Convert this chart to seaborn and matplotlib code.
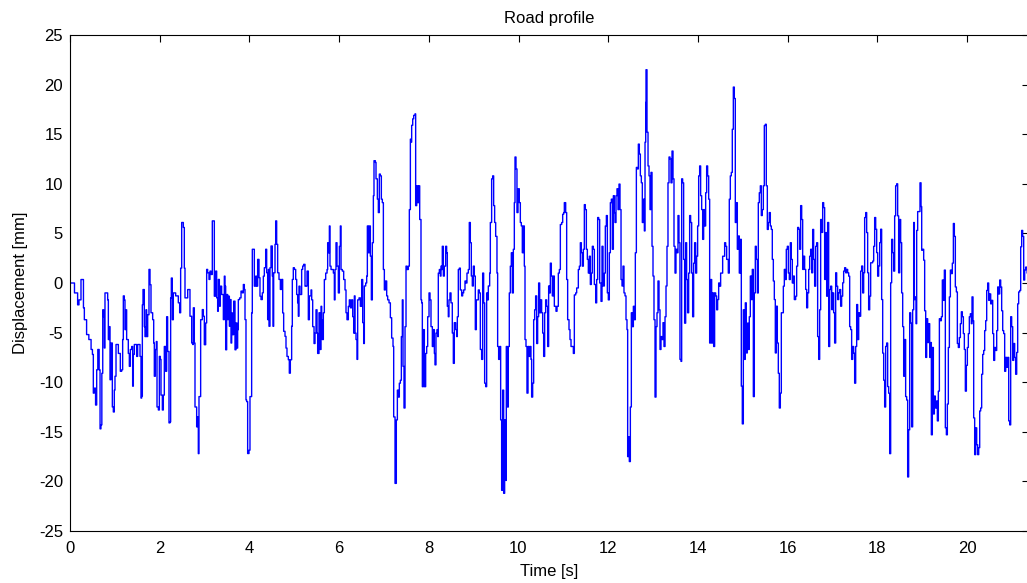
# plot.py
# Road profile - displacement vs time (MATLAB-style line plot)

import pandas as pd
import numpy as np
import matplotlib
matplotlib.use("Agg")
import matplotlib.pyplot as plt
import seaborn as sns

# (time [s], displacement [mm]), one list per stretch
road_0_to_2_5 = [
    (0.00, 0.0), (0.07, 0.0), (0.10, -1.0), (0.17, -2.2), (0.20, -1.7), (0.245, 0.35), (0.275, 0.35),
    (0.30, -2.5), (0.32, -3.7), (0.37, -5.2), (0.42, -5.7), (0.47, -6.7), (0.50, -7.2), (0.52, -11.1),
    (0.54, -10.6), (0.57, -12.3), (0.595, -8.75), (0.62, -6.7), (0.65, -8.75), (0.67, -14.7), (0.69, -14.3),
    (0.71, -9.1), (0.73, -2.7), (0.75, -3.4), (0.765, -6.55), (0.78, -1.0), (0.84, -1.7), (0.855, -5.7),
    (0.877, -4.4), (0.892, -9.75), (0.914, -6.05), (0.944, -12.5), (0.966, -13.0), (0.988, -10.8),
    (1.003, -9.4), (1.026, -6.2), (1.078, -7.1), (1.122, -8.9), (1.152, -8.75), (1.174, -5.7), (1.189, -1.3),
    (1.211, -1.7), (1.226, -4.7), (1.241, -2.7), (1.263, -5.7), (1.30, -7.1), (1.323, -8.4), (1.345, -6.7),
    (1.375, -6.4), (1.397, -10.4), (1.412, -7.2), (1.434, -6.2), (1.486, -7.4), (1.508, -6.2), (1.561, -7.4),
    (1.583, -11.6), (1.598, -11.4), (1.613, -2.2), (1.628, -0.66), (1.657, -4.4), (1.672, -5.4), (1.694, -2.7),
    (1.709, -5.4), (1.732, -3.2), (1.761, 1.37), (1.784, -0.17), (1.806, -3.0), (1.843, -3.7), (1.866, -6.05),
    (1.88, -9.4), (1.903, -6.7), (1.925, -5.9), (1.94, -12.5), (1.97, -12.8), (1.992, -7.4), (2.014, -7.7),
    (2.029, -11.3), (2.059, -12.8), (2.081, -11.3), (2.103, -6.4), (2.133, -8.9), (2.155, -3.4), (2.177, -6.9),
    (2.207, -14.1), (2.229, -14.0), (2.244, -1.5), (2.259, 0.5), (2.281, -3.7), (2.304, -1.0), (2.356, -1.3),
    (2.415, -2.0), (2.445, -3.0), (2.467, 1.5), (2.49, 6.1), (2.527, 5.6), (2.549, 1.5), (2.564, -1.5),
]

road_2_5_to_5_2 = [
    (2.624, -0.66), (2.653, -0.66), (2.675, -3.35), (2.713, -6.05), (2.735, -6.2), (2.75, -2.5), (2.772, -6.05),
    (2.787, -12.5), (2.824, -14.5), (2.84, -13.5), (2.861, -17.2), (2.876, -11.45), (2.913, -3.7), (2.95, -2.68),
    (2.973, -3.35), (2.995, -6.22), (3.025, -4.03), (3.047, 1.37), (3.069, 1.03), (3.099, 0.36), (3.121, 1.2),
    (3.144, 0.86), (3.173, 6.26), (3.196, 6.26), (3.218, -1.33), (3.248, 1.2), (3.27, -1.5), (3.292, -2.85),
    (3.307, 0.36), (3.33, -2.34), (3.352, -0.32), (3.381, -1.16), (3.419, -3.69), (3.441, 0.69), (3.456, -0.32),
    (3.471, -6.73), (3.493, -1.16), (3.515, -3.69), (3.53, -1.33), (3.553, -4.36), (3.575, -1.67), (3.59, -6.05),
    (3.605, -3.02), (3.627, -5.21), (3.649, -1.83), (3.679, -6.73), (3.701, -4.03), (3.723, -6.56), (3.738, -4.7),
    (3.753, -1.67), (3.783, -1.5), (3.813, -0.82), (3.842, -0.99), (3.865, -0.15), (3.887, -0.65), (3.902, -3.69),
    (3.924, -11.79), (3.939, -11.96), (3.961, -17.19), (3.991, -16.85), (4.013, -11.45), (4.05, -3.02),
    (4.065, 3.4), (4.088, 3.4), (4.11, -0.32), (4.14, 0.69), (4.162, -0.32), (4.184, 2.38), (4.214, 0.53),
    (4.236, -1.33), (4.259, -1.67), (4.288, -0.99), (4.311, 0.69), (4.333, 1.54), (4.363, 3.4), (4.385, 1.03),
    (4.407, -3.69), (4.422, 1.37), (4.437, -4.36), (4.459, 1.54), (4.482, 3.73), (4.511, 0.69), (4.526, -4.36),
    (4.541, 1.03), (4.571, 3.9), (4.586, 6.26), (4.608, 3.9), (4.63, 1.03), (4.66, 0.36), (4.69, -0.65),
    (4.72, 0.36), (4.742, -3.02), (4.764, -4.87), (4.794, -5.38), (4.816, -6.56), (4.838, -7.4), (4.868, -7.74),
    (4.89, -9.09), (4.913, -7.74), (4.942, -4.36), (4.957, 0.36), (4.979, 1.54), (5.002, 1.37), (5.032, 0.36),
    (5.054, -1.16), (5.076, -2.0), (5.091, -3.35), (5.106, -0.32), (5.128, -1.16), (5.165, 1.37), (5.188, 1.71),
    (5.21, 1.88), (5.24, -0.32),
]

road_5_2_to_8_1 = [
    (5.262, -0.3), (5.285, 1.2), (5.314, -3.7), (5.337, -1.3), (5.374, -0.7), (5.389, -1.7), (5.411, -4.4),
    (5.441, -6.1), (5.463, -5.05), (5.485, -2.7), (5.508, -5.05), (5.522, -7.1), (5.552, -3.0), (5.574, -6.7),
    (5.597, -2.35), (5.612, -3.7), (5.626, -5.7), (5.649, -3.0), (5.671, 0.35), (5.701, 1.0), (5.731, 1.36),
    (5.745, 4.06), (5.76, 3.05), (5.783, 5.75), (5.797, 1.7), (5.82, 1.36), (5.849, 1.36), (5.872, 1.0),
    (5.894, -1.7), (5.909, 1.36), (5.931, 4.06), (5.953, 1.7), (5.983, -1.0), (6.006, 3.7), (6.028, 5.75),
    (6.043, 1.36), (6.072, 1.2), (6.102, 0.35), (6.132, -0.7), (6.154, -3.0), (6.176, -3.7), (6.206, -2.35),
    (6.228, -1.7), (6.251, -2.5), (6.28, -1.7), (6.303, -3.4), (6.325, -5.05), (6.34, -1.3), (6.355, -5.05),
    (6.377, -5.7), (6.399, -7.7), (6.414, -1.7), (6.444, -1.5), (6.474, -2.35), (6.503, 0.35), (6.526, -4.0),
    (6.548, -6.1), (6.563, -0.3), (6.593, 0.0), (6.615, 0.7), (6.63, 5.75), (6.652, 3.05), (6.674, 5.75),
    (6.697, 2.7), (6.719, -1.7), (6.741, 4.06), (6.764, 8.8), (6.778, 12.33), (6.808, 12.16), (6.823, 10.5),
    (6.853, 8.45), (6.875, 7.1), (6.897, 10.98), (6.92, 10.8), (6.942, 8.45), (6.964, 8.1), (6.987, 1.36),
    (7.009, -0.7), (7.031, 0.2), (7.061, -1.3), (7.083, -1.7), (7.113, -2.0), (7.143, -3.5), (7.172, -5.55),
    (7.202, -6.4), (7.217, -13.5), (7.247, -20.2), (7.276, -13.8), (7.299, -10.8), (7.321, -11.5), (7.343, -10.1),
    (7.366, -9.8), (7.388, -5.4), (7.41, -1.7), (7.425, -8.4), (7.447, -12.6), (7.47, -4.4), (7.492, 1.7),
    (7.514, 1.36), (7.544, 1.7), (7.566, 7.4), (7.589, 14.5), (7.603, 14.2), (7.618, 15.9), (7.641, 16.55),
    (7.663, 16.9), (7.693, 17.05), (7.707, 7.8), (7.73, 9.8), (7.752, 8.1), (7.774, 9.8), (7.797, 6.4),
    (7.826, -1.7), (7.841, -2.0), (7.856, -10.45), (7.878, -4.7), (7.901, -10.45), (7.93, -7.1), (7.953, -6.4),
    (7.975, -3.4), (8.005, -1.0), (8.027, -1.7), (8.049, -4.4), (8.079, -6.4), (8.101, -4.7), (8.124, -7.1),
]

road_8_1_to_10_8 = [
    (8.138, -8.25), (8.16, -5.05), (8.183, -4.7), (8.197, -5.4), (8.212, 1.0), (8.235, 1.36), (8.257, 0.7),
    (8.272, 1.7), (8.287, 1.36), (8.301, 3.7), (8.324, 0.7), (8.346, 1.7), (8.376, 3.7), (8.398, 3.05),
    (8.413, -2.35), (8.435, -3.4), (8.45, -1.7), (8.472, -1.0), (8.495, -2.0), (8.524, -5.05), (8.547, -8.1),
    (8.569, -4.0), (8.599, -4.7), (8.621, -5.4), (8.636, -3.4), (8.658, 1.36), (8.681, 1.5), (8.703, -0.7),
    (8.733, -1.3), (8.755, -1.0), (8.777, -0.7), (8.807, 0.2), (8.829, 0.0), (8.851, 1.0), (8.881, 1.36),
    (8.903, 6.1), (8.926, 4.06), (8.948, 0.7), (8.97, -0.3), (8.993, 1.7), (9.015, 0.7), (9.037, -4.7),
    (9.06, -1.7), (9.082, -1.7), (9.104, -0.7), (9.126, -1.0), (9.149, -6.7), (9.178, -7.7), (9.201, 1.0),
    (9.223, -2.0), (9.245, -10.1), (9.268, -10.45), (9.29, -1.0), (9.312, -1.7), (9.327, -0.3), (9.357, 1.0),
    (9.372, 6.1), (9.401, 10.5), (9.424, 10.8), (9.446, 7.8), (9.468, 6.1), (9.491, 4.7), (9.52, 1.0),
    (9.535, -6.4), (9.557, -7.7), (9.58, -6.4), (9.602, -13.8), (9.624, -20.9), (9.647, -10.8), (9.669, -21.2),
    (9.691, -13.8), (9.714, -19.9), (9.728, -6.4), (9.751, -12.5), (9.773, -6.4), (9.795, -1.0), (9.818, 1.7),
    (9.84, 3.05), (9.862, -1.0), (9.885, 3.4), (9.907, 8.1), (9.922, 12.7), (9.944, 11.5), (9.966, 7.1),
    (9.989, 9.5), (10.018, 8.1), (10.041, 6.1), (10.063, 5.75), (10.085, 3.05), (10.107, 5.75), (10.13, 1.7),
    (10.145, -5.7), (10.167, -6.4), (10.189, -11.1), (10.212, -6.4), (10.234, -7.4), (10.256, -6.4),
    (10.278, -7.7), (10.293, -11.5), (10.316, -10.1), (10.338, -3.7), (10.36, -2.7), (10.382, -1.3),
    (10.405, -6.1), (10.427, -3.4), (10.449, 0.0), (10.472, -3.0), (10.494, -1.7), (10.516, -3.0),
    (10.539, -5.05), (10.561, -7.4), (10.583, -3.0), (10.605, -1.7), (10.628, -2.35), (10.65, -6.4),
    (10.672, -0.3), (10.695, -1.0), (10.71, 2.0), (10.732, 0.7), (10.754, -1.3), (10.777, 0.7), (10.799, -2.35),
]

road_10_8_to_13_5 = [
    (10.836, -2.85), (10.859, -2.35), (10.888, 1.0), (10.911, 1.36), (10.933, 5.9), (10.963, 6.1), (10.985, 6.93),
    (11.007, 7.1), (11.022, 8.1), (11.052, 7.1), (11.074, 0.35), (11.096, -3.7), (11.126, -4.7), (11.148, -5.7),
    (11.171, -6.4), (11.2, -6.4), (11.223, -7.1), (11.245, -1.2), (11.275, -1.0), (11.297, -0.5), (11.334, 1.36),
    (11.357, 1.7), (11.379, 4.06), (11.401, 3.05), (11.423, 1.7), (11.446, 3.4), (11.468, 7.9), (11.49, 7.4),
    (11.513, 3.4), (11.535, 2.38), (11.557, 1.0), (11.58, 2.7), (11.602, -0.15), (11.624, 1.0), (11.646, 3.7),
    (11.669, 3.4), (11.691, -0.15), (11.721, -2.0), (11.743, 0.35), (11.765, 6.6), (11.788, 6.4), (11.81, 0.0),
    (11.84, -1.85), (11.862, 3.7), (11.884, -0.3), (11.914, 1.0), (11.936, 5.75), (11.959, 6.8), (11.981, -1.0),
    (12.003, -1.7), (12.025, 3.05), (12.048, 8.1), (12.07, 8.45), (12.092, 3.4), (12.115, 8.8), (12.137, 7.1),
    (12.152, 6.1), (12.174, 8.8), (12.196, 9.5), (12.219, 7.4), (12.241, 9.97), (12.263, 7.4), (12.286, 0.35),
    (12.308, -0.3), (12.33, 1.7), (12.352, -1.0), (12.375, -1.3), (12.397, -3.7), (12.419, -4.7),
    (12.434, -17.5), (12.449, -15.5), (12.471, -18.0), (12.494, -12.5), (12.516, -3.0), (12.538, -4.4),
    (12.561, -2.35), (12.583, -3.7), (12.605, 3.05), (12.628, 11.65), (12.65, 11.5), (12.672, 14.0),
    (12.694, 13.0), (12.717, 10.8), (12.739, 10.1), (12.761, 6.1), (12.784, 8.45), (12.806, 5.25),
    (12.821, 14.2), (12.836, 18.2), (12.843, 21.5), (12.865, 15.2), (12.888, 11.8), (12.91, 10.8),
    (12.932, 7.4), (12.954, 11.15), (12.977, 3.7), (12.999, 0.7), (13.021, -3.7), (13.044, -11.5),
    (13.066, -4.4), (13.088, -3.0), (13.11, 0.2), (13.133, -2.7), (13.155, -6.7), (13.177, -5.4), (13.2, -5.7),
    (13.222, -4.0), (13.244, -6.4), (13.267, -3.4), (13.289, -0.3), (13.311, 3.7), (13.333, 10.1),
    (13.356, 12.7), (13.378, 12.5), (13.4, 10.1), (13.423, 13.3), (13.445, 10.5), (13.467, 3.7), (13.49, 1.0),
]

road_13_5_to_16_2 = [
    (13.511, 3.4), (13.534, 3.05), (13.556, 6.8), (13.578, 4.06), (13.6, -7.7), (13.623, -7.9), (13.638, 10.5),
    (13.66, 10.1), (13.682, 2.38), (13.704, -4.05), (13.727, 4.06), (13.749, 0.35), (13.771, -3.0), (13.794, 1.0),
    (13.816, 6.8), (13.838, 6.1), (13.861, 1.0), (13.883, -3.4), (13.905, 2.0), (13.927, 4.06), (13.95, 1.0),
    (13.972, 2.7), (13.994, 5.75), (14.017, 10.8), (14.039, 11.8), (14.061, 8.8), (14.084, 7.4), (14.106, 4.4),
    (14.128, 7.4), (14.15, 5.75), (14.173, 9.1), (14.195, 11.8), (14.217, 10.8), (14.24, 8.45), (14.262, -6.05),
    (14.284, 0.35), (14.307, -6.05), (14.329, -1.0), (14.351, -6.4), (14.373, -1.0), (14.396, -1.3),
    (14.418, -2.7), (14.44, -1.67), (14.463, 0.0), (14.485, -0.32), (14.507, 1.0), (14.529, 1.0), (14.552, 2.7),
    (14.574, 2.7), (14.596, 4.06), (14.619, 3.7), (14.641, 2.38), (14.663, 2.38), (14.678, 1.0), (14.7, 8.45),
    (14.723, 10.8), (14.745, 11.15), (14.767, 15.5), (14.79, 19.75), (14.812, 18.6), (14.834, 6.1), (14.856, 8.1),
    (14.879, 3.4), (14.901, 4.74), (14.923, 1.0), (14.946, 4.4), (14.968, -10.4), (14.99, -14.2), (15.013, -2.7),
    (15.035, -7.7), (15.057, -2.0), (15.079, -7.05), (15.102, -4.05), (15.124, -6.7), (15.146, -3.4),
    (15.169, 0.7), (15.191, -1.67), (15.213, 1.37), (15.236, -11.45), (15.258, -1.0), (15.28, 3.7),
    (15.302, 2.38), (15.325, -1.0), (15.347, 8.1), (15.369, 9.1), (15.392, 9.8), (15.414, 6.8), (15.436, 7.4),
    (15.459, 9.8), (15.481, 15.87), (15.503, 16.0), (15.525, 9.8), (15.548, 5.4), (15.57, 6.1), (15.592, 7.1),
    (15.615, 5.75), (15.637, 5.4), (15.659, 2.38), (15.682, 0.2), (15.704, -1.67), (15.726, -7.05),
    (15.748, -2.34), (15.771, -6.05), (15.793, -9.1), (15.815, -12.6), (15.838, -11.1), (15.86, -3.0),
    (15.882, -3.0), (15.905, -0.32), (15.927, 1.37), (15.949, 0.35), (15.971, 3.4), (15.994, 3.7), (16.016, 1.0),
    (16.038, 0.35), (16.061, 4.06), (16.083, 2.38), (16.105, 0.0), (16.127, 0.7), (16.15, -1.67),
]

road_16_2_to_18_8 = [
    (16.18, -1.33), (16.202, 1.7), (16.224, 5.6), (16.247, 5.42), (16.269, 3.4), (16.291, 7.8), (16.314, 6.4),
    (16.336, 1.37), (16.358, 2.7), (16.38, 1.37), (16.403, -0.65), (16.425, -2.5), (16.447, -1.0), (16.47, 1.37),
    (16.492, 2.7), (16.514, 3.4), (16.537, 1.03), (16.559, 5.4), (16.581, 2.38), (16.603, -0.32), (16.626, 3.7),
    (16.648, 4.06), (16.67, -5.4), (16.693, -7.7), (16.715, -2.7), (16.737, 6.4), (16.76, 5.1), (16.782, 8.1),
    (16.804, 7.6), (16.826, 0.36), (16.849, 5.08), (16.871, -1.33), (16.893, 6.1), (16.916, -6.4),
    (16.938, -0.66), (16.96, -0.32), (16.983, -2.68), (17.005, -1.0), (17.027, -3.0), (17.049, -6.05),
    (17.072, 1.03), (17.094, -0.32), (17.116, -1.67), (17.139, -1.0), (17.161, -0.66), (17.183, -2.34),
    (17.205, -1.33), (17.228, 0.02), (17.25, 1.2), (17.272, 1.54), (17.295, 1.03), (17.317, 1.37), (17.339, 1.03),
    (17.362, 0.69), (17.384, -4.4), (17.406, -4.7), (17.428, -7.7), (17.451, -6.4), (17.473, -7.07),
    (17.495, -10.1), (17.518, -6.4), (17.54, -2.17), (17.562, -5.7), (17.585, -3.0), (17.607, -3.35),
    (17.629, 1.2), (17.651, 1.71), (17.674, -1.0), (17.696, 1.03), (17.718, 6.6), (17.741, 7.1), (17.763, 5.08),
    (17.785, 1.03), (17.807, -2.7), (17.83, -1.33), (17.852, 2.04), (17.874, 2.04), (17.897, 2.21), (17.919, 3.7),
    (17.941, 6.6), (17.964, 5.42), (17.986, 3.06), (18.008, 0.69), (18.03, 1.71), (18.053, 4.07), (18.075, 5.42),
    (18.097, -1.67), (18.12, -7.07), (18.142, -9.8), (18.164, -12.5), (18.186, -6.39), (18.209, -6.05),
    (18.231, -10.44), (18.253, -11.11), (18.276, -17.2), (18.298, 0.02), (18.32, 4.4), (18.343, 3.06),
    (18.365, 1.2), (18.387, 6.77), (18.409, 9.8), (18.432, 10.0), (18.454, 6.77), (18.476, 1.03), (18.499, 6.4),
    (18.521, 4.07), (18.543, -1.0), (18.566, -4.4), (18.588, -9.4), (18.61, -5.7), (18.632, -11.45),
    (18.655, -11.8), (18.677, -19.55), (18.699, -14.8), (18.722, -3.0), (18.744, -4.03), (18.766, -14.5),
    (18.788, -2.7), (18.811, 6.1), (18.826, -1.67),
]

road_18_8_to_end = [
    (18.841, -1.4), (18.863, -4.1), (18.878, 5.3), (18.9, 7.2), (18.93, 7.2), (18.952, 10.1), (18.975, 7.7),
    (18.99, 3.3), (19.012, 3.4), (19.034, 2.3), (19.056, -2.8), (19.079, -7.5), (19.101, -3.6), (19.123, -6.0),
    (19.146, -4.1), (19.168, -7.5), (19.19, -6.0), (19.205, -15.3), (19.227, -6.5), (19.25, -13.2),
    (19.272, -11.4), (19.294, -12.6), (19.317, -11.9), (19.339, -13.9), (19.361, -10.9), (19.384, -3.6),
    (19.406, -3.8), (19.428, -3.4), (19.45, 0.3), (19.473, -1.75), (19.495, 1.3), (19.517, -14.6),
    (19.54, -15.3), (19.562, -12.2), (19.584, -6.5), (19.607, -1.4), (19.629, 1.3), (19.651, 0.95), (19.673, 2.0),
    (19.696, 6.0), (19.718, 4.7), (19.74, -0.4), (19.763, -0.9), (19.785, -6.1), (19.807, -6.5), (19.829, -5.5),
    (19.852, -4.1), (19.874, -2.9), (19.896, -3.4), (19.919, -5.1), (19.941, -6.7), (19.963, -10.9),
    (19.986, -8.3), (20.008, -6.5), (20.03, -5.1), (20.052, -3.4), (20.075, -3.1), (20.097, -4.1),
    (20.112, -1.4), (20.134, -3.8), (20.149, -13.6), (20.171, -17.3), (20.194, -14.6), (20.216, -16.3),
    (20.238, -17.3), (20.261, -16.6), (20.283, -12.9), (20.305, -12.6), (20.327, -9.2), (20.35, -7.2),
    (20.372, -6.8), (20.394, -4.8), (20.417, -3.8), (20.439, -0.75), (20.461, 0.0), (20.483, -1.75),
    (20.506, -1.1), (20.528, -2.1), (20.55, -1.75), (20.573, -5.1), (20.595, -7.8), (20.617, -6.5),
    (20.64, -6.8), (20.662, -4.8), (20.684, -0.4), (20.706, -1.1), (20.729, 0.3), (20.751, -0.4),
    (20.773, -2.8), (20.796, -4.8), (20.818, -5.1), (20.84, -8.9), (20.863, -7.5), (20.885, -8.5),
    (20.907, -7.5), (20.93, -13.9), (20.952, -14.3), (20.974, -3.4), (20.996, -4.4), (21.019, -7.8),
    (21.041, -6.1), (21.063, -7.5), (21.085, -9.2), (21.108, -7.0), (21.13, -2.1), (21.152, -0.9),
    (21.175, -0.75), (21.197, 3.65), (21.219, 5.3), (21.241, 4.7), (21.264, 0.3), (21.286, 1.3),
    (21.308, 1.6), (21.34, 1.0), (21.40, 0.6),
]

x_ticks = list(range(0, 21, 2))
y_ticks = list(range(-25, 26, 5))

segments = [road_0_to_2_5, road_2_5_to_5_2, road_5_2_to_8_1, road_8_1_to_10_8,
            road_10_8_to_13_5, road_13_5_to_16_2, road_16_2_to_18_8, road_18_8_to_end]
df = pd.DataFrame([p for seg in segments for p in seg], columns=['time', 'disp'])

sns.set_style('white')
plt.rcParams['font.family'] = ['Liberation Sans', 'DejaVu Sans']
plt.rcParams['font.size'] = 12
plt.rcParams['axes.unicode_minus'] = False
plt.rcParams['text.color'] = 'black'
plt.rcParams['axes.labelcolor'] = 'black'

W, H = 1027, 583
fig = plt.figure(figsize=(W / 100, H / 100), dpi=100)
# axes box: left spine at x=70 px, top at 35 px, bottom at 531 px, right spine just past the edge
ax = fig.add_axes([70 / W, 1 - 531 / H, (1029 - 70) / W, (531 - 35) / H])

# zero-order-hold look of the sampled profile
sns.lineplot(data=df, x='time', y='disp', color='#0000ff', linewidth=1.0,
             estimator=None, sort=False, drawstyle='steps-post', ax=ax)

ax.set_xlim(0, (1029 - 70) / 44.85)
ax.set_ylim(-25, 25)
ax.set_xticks(x_ticks)
ax.set_yticks(y_ticks)
ax.tick_params(direction='in', length=5, width=0.8, top=True, right=True,
               colors='black', labelsize=12)
ax.tick_params(axis='x', pad=7)
ax.tick_params(axis='y', pad=5)
for s in ax.spines.values():
    s.set_color('black')
    s.set_linewidth(0.8)

ax.set_xlabel('Time [s]', fontsize=12, labelpad=6)
ax.set_ylabel('Displacement [mm]', fontsize=12, labelpad=8)
ax.set_title('Road profile', fontsize=12, pad=9, color='black')

fig.savefig('out.png', dpi=100, facecolor='white')
